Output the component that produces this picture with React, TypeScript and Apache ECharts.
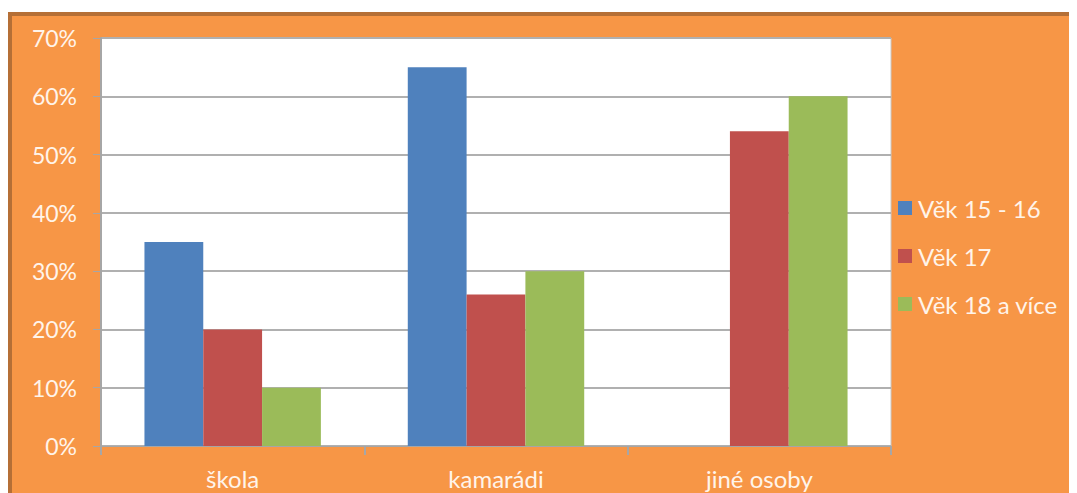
import React, { useEffect, useRef } from "react";
import * as echarts from "echarts";

const categories = ["škola", "kamarádi", "jiné osoby"];
const seriesNames = ["Věk 15 - 16", "Věk 17", "Věk 18 a více"];
const age1516 = [35, 65, 0];
const age17 = [20, 26, 54];
const age18plus = [10, 30, 60];
const colors = ["#4F81BD", "#C0504D", "#9BBB59"];
const yTicks = [0, 10, 20, 30, 40, 50, 60, 70];

const FONT = "Lato";
const TEXT = "#FFF4EA";

export default function App() {
  const ref = useRef<HTMLDivElement>(null);
  useEffect(() => {
    if (!ref.current) return;
    const chart = echarts.init(ref.current, undefined, { renderer: "svg" });
    const values = [age1516, age17, age18plus];
    chart.setOption({
      animation: false,
      backgroundColor: "#F79646",
      textStyle: { fontFamily: FONT },
      legend: {
        orient: "vertical",
        left: 881,
        top: 175,
        itemWidth: 14,
        itemHeight: 14,
        itemGap: 24,
        icon: "rect",
        textStyle: { color: TEXT, fontSize: 24, fontFamily: FONT, padding: [0, 0, 0, 1] },
        data: seriesNames,
      },
      grid: {
        left: 89,
        right: 186,
        top: 22,
        bottom: 47,
        show: true,
        backgroundColor: "#FFFFFF",
        borderColor: "#C8C8C8",
        borderWidth: 1,
      },
      xAxis: {
        type: "category",
        data: categories,
        axisLine: { show: true, lineStyle: { color: "#A6A6A6", width: 1 } },
        axisTick: { show: true, length: 9, lineStyle: { color: "#A6A6A6", width: 2 } },
        axisLabel: { color: TEXT, fontSize: 24, margin: 20, fontFamily: FONT },
        splitLine: { show: false },
      },
      yAxis: {
        type: "value",
        min: 0,
        max: 70,
        interval: 10,
        axisLine: { show: true, lineStyle: { color: "#A6A6A6", width: 2 } },
        axisTick: { show: true, length: 8, lineStyle: { color: "#A6A6A6" } },
        axisLabel: {
          color: TEXT,
          fontSize: 23,
          margin: 24,
          fontFamily: FONT,
          formatter: (v: number) => (yTicks.includes(v) ? v + "%" : ""),
        },
        splitLine: { show: true, lineStyle: { color: "#B0B0B0", width: 2 } },
      },
      series: seriesNames.map((name, i) => ({
        name,
        type: "bar",
        data: values[i],
        barGap: "0%",
        barCategoryGap: "33%",
        itemStyle: { color: colors[i] },
      })),
    });
    return () => chart.dispose();
  }, []);
  return (
    <div
      style={{
        marginTop: 4,
        borderTop: "4px solid #B56F36",
        borderLeft: "4px solid #B56F36",
        background: "#F79646",
        width: 1065,
        height: 477,
      }}
    >
      <div ref={ref} style={{ width: 1065, height: 477 }} />
    </div>
  );
}
